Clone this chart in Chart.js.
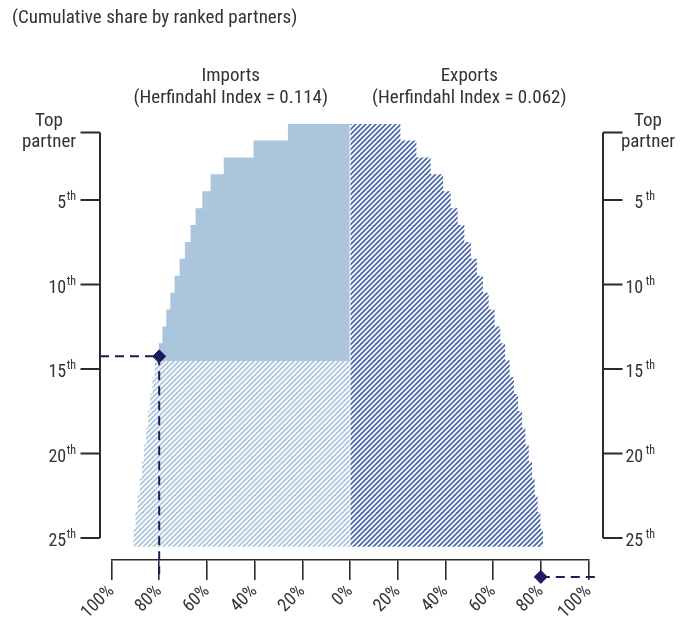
<!DOCTYPE html>
<html lang="en">
<head>
<meta charset="UTF-8">
<title>Cumulative share by ranked partners</title>
<style>
  body { margin: 0; background: #fff; }
  #chart { display: block; }
</style>
</head>
<body>
<canvas id="chart" width="692" height="622"></canvas>
<script src="https://cdn.jsdelivr.net/npm/chart.js"></script>
<script>
// partner rank, 1 = top partner
const ranks = [1, 2, 3, 4, 5, 6, 7, 8, 9, 10, 11, 12, 13, 14, 15, 16, 17, 18, 19, 20, 21, 22, 23, 24, 25];
// cumulative share (%) of the top n partners
const importShare = [25.9, 40.3, 52.8, 58.3, 61.8, 64.6, 66.7, 69.1, 71.3, 73.4, 75.2, 76.9, 78.5, 80.0,
                     81.8, 82.7, 83.6, 84.5, 85.3, 86.2, 87.1, 88.0, 88.9, 89.8, 90.6];
const exportShare = [21.0, 27.7, 33.7, 38.9, 42.1, 45.0, 47.8, 50.6, 53.1, 55.6, 58.0, 60.5, 62.9, 64.9,
                     66.8, 68.6, 70.3, 72.0, 73.4, 74.8, 76.2, 77.3, 78.5, 79.7, 80.8];
// partners needed to reach 80% of imports (drawn solid)
const solidImportRanks = 14;
// 80% markers: imports on the left, exports on the right
const markerShare = [-80, 80];
const markerRank = [14.25, 27.3];
// axis ticks
const shareTicks = [-100, -80, -60, -40, -20, 0, 20, 40, 60, 80, 100];
const rankTicks = [1, 5, 10, 15, 20, 25];
const rankTickLabels = ['Top partner', '5', '10', '15', '20', '25'];
const headers = [['Imports', '(Herfindahl Index = 0.114)'], ['Exports', '(Herfindahl Index = 0.062)']];
const title = '(Cumulative share by ranked partners)';

const FONT = "'Liberation Sans Narrow', 'Roboto Condensed', 'DejaVu Sans Condensed', 'Arial Narrow', sans-serif";
const textColor = '#333333';
const axisColor = '#2b2b2b';
const navy = '#1c1b5e';
const lightBlue = '#aac5dc';
const darkBlue = '#4d68aa';

// diagonal hatching  ////
function hatch(color) {
  const n = 5;
  const c = document.createElement('canvas');
  c.width = n; c.height = n;
  const g = c.getContext('2d');
  g.strokeStyle = color;
  g.lineWidth = 1.8;
  g.beginPath();
  g.moveTo(0, n); g.lineTo(n, 0);
  g.moveTo(-1, 1); g.lineTo(1, -1);
  g.moveTo(n - 1, n + 1); g.lineTo(n + 1, n - 1);
  g.stroke();
  return g.createPattern(c, 'repeat');
}
const importHatch = hatch(lightBlue);
const exportHatch = hatch(darkBlue);

function drawRankLabel(ctx, label, y, side, anchorX) {
  ctx.fillStyle = textColor;
  ctx.textBaseline = 'alphabetic';
  if (label.indexOf(' ') > 0) {
    const [a, b] = label.split(' ');
    ctx.font = '19px ' + FONT;
    ctx.textAlign = 'center';
    ctx.fillText(a, anchorX, y - 6);
    ctx.fillText(b, anchorX, y + 15);
    return;
  }
  ctx.textAlign = 'right';
  ctx.font = '12px ' + FONT;
  const thW = ctx.measureText('th').width;
  ctx.fillText('th', anchorX, y);
  ctx.font = '18px ' + FONT;
  ctx.fillText(label, anchorX - thW - (side === 'right' ? 2.5 : 0.5), y + 8);
}

const framePlugin = {
  id: 'frame',
  afterDraw(chart) {
    const { ctx, scales: { x, y } } = chart;
    ctx.save();
    // title
    ctx.fillStyle = textColor;
    ctx.font = '19px ' + FONT;
    ctx.textAlign = 'left';
    ctx.textBaseline = 'middle';
    ctx.fillText(title, 12, 18);
    // column headers
    ctx.textAlign = 'center';
    const centres = [(x.getPixelForValue(-100) + x.getPixelForValue(0)) / 2,
                     (x.getPixelForValue(0) + x.getPixelForValue(100)) / 2];
    headers.forEach((h, i) => {
      ctx.fillText(h[0], centres[i], 76);
      ctx.fillText(h[1], centres[i], 98);
    });
    // rank axes on both sides
    const yTop = y.getPixelForValue(rankTicks[0]);
    const yBot = y.getPixelForValue(rankTicks[rankTicks.length - 1]);
    const sides = [
      { side: 'left', lineX: x.getPixelForValue(-100) - 11.5, dir: -1, labelX: 76, topX: 49 },
      { side: 'right', lineX: x.getPixelForValue(100) + 14.5, dir: 1, labelX: 655, topX: 648 }
    ];
    ctx.strokeStyle = axisColor;
    ctx.lineWidth = 2;
    sides.forEach(s => {
      ctx.beginPath();
      ctx.moveTo(s.lineX, yTop);
      ctx.lineTo(s.lineX, yBot);
      rankTicks.forEach(r => {
        const py = y.getPixelForValue(r);
        ctx.moveTo(s.lineX, py);
        ctx.lineTo(s.lineX + s.dir * 19.5, py);
      });
      ctx.stroke();
      rankTicks.forEach((r, i) => {
        const py = y.getPixelForValue(r);
        const lbl = rankTickLabels[i];
        drawRankLabel(ctx, lbl, py, s.side, lbl.indexOf(' ') > 0 ? s.topX : s.labelX);
      });
    });
    ctx.restore();
  },
  beforeDatasetDraw(chart, args) {
    if (args.meta.type !== 'scatter') return;
    const { ctx, scales: { x, y } } = chart;
    const axisY = y.getPixelForValue(y.max);
    ctx.save();
    ctx.strokeStyle = navy;
    ctx.lineWidth = 2;
    ctx.setLineDash([9, 6]);
    // imports: across from the rank axis, then down to the share axis
    const ix = x.getPixelForValue(markerShare[0]);
    const iy = y.getPixelForValue(markerRank[0]);
    ctx.beginPath();
    ctx.moveTo(x.getPixelForValue(-100) - 11.5, iy);
    ctx.lineTo(ix, iy);
    ctx.moveTo(ix, iy);
    ctx.lineTo(ix, axisY + 14);
    ctx.stroke();
    // exports: across to the right-hand axis
    const ex = x.getPixelForValue(markerShare[1]);
    const ey = y.getPixelForValue(markerRank[1]);
    ctx.beginPath();
    ctx.moveTo(ex, ey);
    ctx.lineTo(x.getPixelForValue(100) + 12, ey);
    ctx.stroke();
    ctx.restore();
  },
  afterDatasetDraw(chart, args) {
    if (args.meta.type !== 'scatter') return;
    // points that sit outside the plot area are skipped by Chart.js, draw them here
    const a = chart.chartArea;
    const full = { left: 0, top: 0, right: chart.width, bottom: chart.height };
    args.meta.data.forEach(pt => {
      if (pt.y > a.bottom || pt.y < a.top || pt.x < a.left || pt.x > a.right) pt.draw(chart.ctx, full);
    });
  }
};

const barOpts = { grouped: false, barPercentage: 1, categoryPercentage: 1, borderWidth: 0, order: 1 };

new Chart(document.getElementById('chart'), {
  type: 'bar',
  data: {
    datasets: [
      {
        type: 'scatter',
        label: '80% of trade',
        data: markerShare.map((v, i) => ({ x: v, y: markerRank[i] })),
        pointStyle: 'rectRot',
        pointRadius: 6.5,
        backgroundColor: navy,
        borderColor: navy,
        borderWidth: 1,
        clip: false,
        order: 0
      },
      Object.assign({
        label: 'Imports',
        data: ranks.map((r, i) => ({ x: -importShare[i], y: r })),
        backgroundColor: c => (c.dataIndex < solidImportRanks ? lightBlue : importHatch)
      }, barOpts),
      Object.assign({
        label: 'Exports',
        data: ranks.map((r, i) => ({ x: exportShare[i], y: r })),
        backgroundColor: exportHatch
      }, barOpts)
    ]
  },
  options: {
    indexAxis: 'y',
    responsive: false,
    animation: false,
    layout: { padding: { left: 111.5, right: 103.5, top: 124, bottom: 0 } },
    plugins: { legend: { display: false }, tooltip: { enabled: false } },
    scales: {
      x: {
        type: 'linear',
        min: -100,
        max: 100,
        afterBuildTicks: s => { s.ticks = shareTicks.map(v => ({ value: v })); },
        afterFit: s => { s.height = 62; },
        grid: { drawOnChartArea: false, drawTicks: true, tickLength: 20, color: axisColor, lineWidth: 1.6 },
        border: { color: axisColor, width: 1.6 },
        ticks: {
          autoSkip: false,
          minRotation: 45,
          maxRotation: 45,
          padding: 1,
          color: textColor,
          font: { family: FONT, size: 18 },
          callback: v => Math.abs(v) + '%'
        }
      },
      y: {
        type: 'linear',
        reverse: true,
        offset: false,
        min: 0.5,
        max: 26.3,
        display: false,
        afterBuildTicks: s => { s.ticks = ranks.map(v => ({ value: v })); }
      }
    }
  },
  plugins: [framePlugin]
});
</script>
</body>
</html>
